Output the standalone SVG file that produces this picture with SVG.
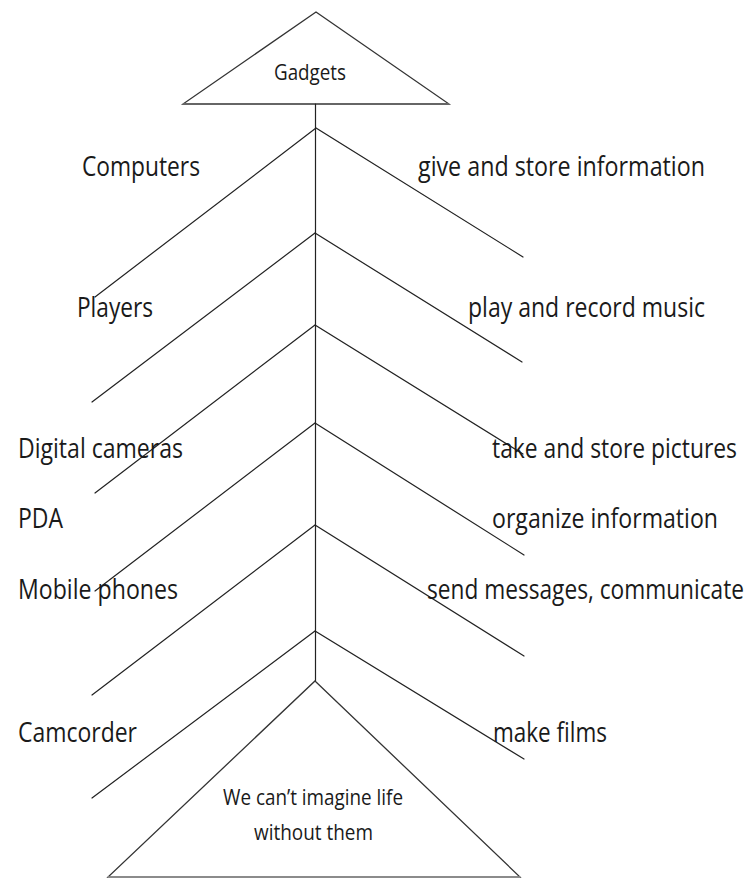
<svg xmlns="http://www.w3.org/2000/svg" width="749" height="878" viewBox="0 0 749 878">
<style>
.ln{stroke:#222;stroke-width:1.2;fill:none;stroke-linecap:round}
.tri{stroke:#333;stroke-width:1.3;fill:#fff}
.lb{font-family:"Open Sans","Liberation Sans",sans-serif;font-size:22px;fill:#1a1a1a}
.sm{font-family:"Open Sans","Liberation Sans",sans-serif;font-size:18px;fill:#1a1a1a}
</style>
<rect width="749" height="878" fill="#fff"/>
<g id="gadgets">
<polygon class="tri" points="316,12 449,104 183,104"/>
<line x1="183" y1="104" x2="449" y2="104" stroke="#666" stroke-width="2.2"/>
<text class="sm" transform="translate(274,80) scale(1,1.18)" textLength="72" lengthAdjust="spacingAndGlyphs">Gadgets</text>
</g>
<g id="connectors">
<line class="ln" x1="315.5" y1="104" x2="315.5" y2="681"/>
<polyline class="ln" points="95,297 316,128 523,257"/>
<polyline class="ln" points="92,402 315,233 522,362"/>
<polyline class="ln" points="95,493 315,325 523,454"/>
<polyline class="ln" points="95,591 315,423 524,555"/>
<polyline class="ln" points="92,695 315,525 524,656"/>
<polyline class="ln" points="92,798 315,631 524,759"/>
</g>
<g id="computers"><text class="lb" transform="translate(82,176) scale(1,1.2)" textLength="118" lengthAdjust="spacingAndGlyphs">Computers</text></g>
<g id="give-store"><text class="lb" transform="translate(418,176) scale(1,1.2)" textLength="287" lengthAdjust="spacingAndGlyphs">give and store information</text></g>
<g id="players"><text class="lb" transform="translate(77,317) scale(1,1.2)" textLength="76" lengthAdjust="spacingAndGlyphs">Players</text></g>
<g id="play-record"><text class="lb" transform="translate(468,317) scale(1,1.2)" textLength="237" lengthAdjust="spacingAndGlyphs">play and record music</text></g>
<g id="digital-cameras"><text class="lb" transform="translate(18,458) scale(1,1.2)" textLength="165" lengthAdjust="spacingAndGlyphs">Digital cameras</text></g>
<g id="take-pictures"><text class="lb" transform="translate(492,458) scale(1,1.2)" textLength="245" lengthAdjust="spacingAndGlyphs">take and store pictures</text></g>
<g id="pda"><text class="lb" transform="translate(18,528) scale(1,1.2)" textLength="45" lengthAdjust="spacingAndGlyphs">PDA</text></g>
<g id="organize"><text class="lb" transform="translate(492,528) scale(1,1.2)" textLength="226" lengthAdjust="spacingAndGlyphs">organize information</text></g>
<g id="mobile-phones"><text class="lb" transform="translate(18,599) scale(1,1.2)" textLength="160" lengthAdjust="spacingAndGlyphs">Mobile phones</text></g>
<g id="send-messages"><text class="lb" transform="translate(427,599) scale(1,1.2)" textLength="317" lengthAdjust="spacingAndGlyphs">send messages, communicate</text></g>
<g id="camcorder"><text class="lb" transform="translate(18,742) scale(1,1.2)" textLength="119" lengthAdjust="spacingAndGlyphs">Camcorder</text></g>
<g id="make-films"><text class="lb" transform="translate(493,742) scale(1,1.2)" textLength="114" lengthAdjust="spacingAndGlyphs">make films</text></g>
<g id="conclusion">
<polygon class="tri" points="315,681 520,877 108,877"/>
<line x1="108" y1="877" x2="520" y2="877" stroke="#999" stroke-width="1.5"/>
<text class="sm" transform="translate(223,805) scale(1,1.18)" textLength="180" lengthAdjust="spacingAndGlyphs">We can’t imagine life</text>
<text class="sm" transform="translate(254,840) scale(1,1.18)" textLength="119" lengthAdjust="spacingAndGlyphs">without them</text>
</g>
</svg>
